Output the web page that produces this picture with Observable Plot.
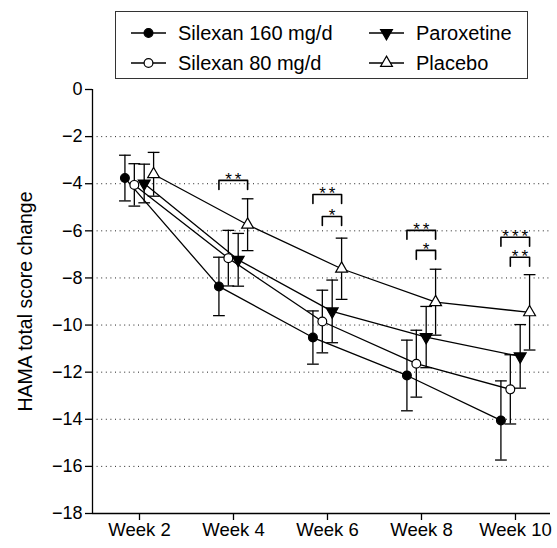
<!DOCTYPE html>
<html><head><meta charset="utf-8">
<script src="https://cdn.jsdelivr.net/npm/d3@7"></script>
<script src="https://cdn.jsdelivr.net/npm/@observablehq/plot@0.6"></script>
<style>
body{margin:0;background:#fff;font-family:"Liberation Sans",Arial,sans-serif;}
#wrap{position:relative;width:557px;height:548px;overflow:hidden;}
#wrap > svg.chart{position:absolute;left:0;top:0;}
#legend{position:absolute;left:115px;top:11px;width:413px;height:68px;border:1px solid #333;box-sizing:border-box;background:#fff;}
svg.chart g[aria-label="text"] text{letter-spacing:3px;}
</style></head>
<body><div id="wrap"><div id="legend"></div></div>
<script>
// ---- data ----
const weeks = [2, 4, 6, 8, 10];
const weekLabels = ["Week 2", "Week 4", "Week 6", "Week 8", "Week 10"];
const seriesNames = ["Silexan 160 mg/d", "Silexan 80 mg/d", "Paroxetine", "Placebo"];
const silexan160 = [-3.76, -8.36, -10.53, -12.14, -14.05];
const silexan160Err = [0.97, 1.24, 1.13, 1.5, 1.68];
const silexan80 = [-4.05, -7.16, -9.85, -11.64, -12.73];
const silexan80Err = [0.9, 1.18, 1.33, 1.42, 1.47];
const paroxetine = [-3.99, -7.23, -9.42, -10.51, -11.33];
const paroxetineErr = [0.82, 1.12, 1.33, 1.3, 1.35];
const placebo = [-3.6, -5.74, -7.61, -9.03, -9.46];
const placeboErr = [0.93, 1.1, 1.3, 1.4, 1.6];
const yTicks = [0, -2, -4, -6, -8, -10, -12, -14, -16, -18];
// significance brackets: week, from series, to series, level, label
const bracketWeek = [4, 6, 6, 8, 8, 10, 10];
const bracketFrom = ["Silexan 160 mg/d", "Silexan 160 mg/d", "Silexan 80 mg/d", "Silexan 160 mg/d", "Silexan 80 mg/d", "Silexan 160 mg/d", "Silexan 80 mg/d"];
const bracketTo = ["Placebo", "Placebo", "Placebo", "Placebo", "Placebo", "Placebo", "Placebo"];
const bracketLevel = [-3.86, -4.46, -5.39, -5.98, -6.83, -6.27, -7.12];
const bracketLabel = ["**", "**", "*", "**", "*", "***", "**"];

// ---- presentation ----
const means = [silexan160, silexan80, paroxetine, placebo];
const errs = [silexan160Err, silexan80Err, paroxetineErr, placeboErr];
const dodge = [-0.31, -0.11, 0.1, 0.3];
const fills = ["black", "white", "black", "white"];
const triDown = {draw(ctx, size) {
  const y = Math.sqrt(size / (3 * Math.sqrt(3)));
  ctx.moveTo(0, 2 * y); ctx.lineTo(-Math.sqrt(3) * y, -y); ctx.lineTo(Math.sqrt(3) * y, -y); ctx.closePath();
}};
const symbols = [d3.symbolCircle, d3.symbolCircle, triDown, d3.symbolTriangle];
const capHalf = 0.125, tickDrop = 0.38;
const FONT = "Liberation Sans, Arial, Helvetica, sans-serif";

const rows = [];
seriesNames.forEach((s, i) => weeks.forEach((w, j) => rows.push({
  series: s, week: w, x: w + dodge[i], mean: means[i][j], err: errs[i][j], fill: fills[i]
})));
const caps = rows.flatMap(d => [{x: d.x, y: d.mean - d.err}, {x: d.x, y: d.mean + d.err}]);
const posOf = (w, s) => w + dodge[seriesNames.indexOf(s)];
const brackets = bracketWeek.map((w, k) => ({
  id: k, x1: posOf(w, bracketFrom[k]), x2: posOf(w, bracketTo[k]), y: bracketLevel[k], label: bracketLabel[k]
}));
const bracketPts = brackets.flatMap(b => [
  {id: b.id, x: b.x1, y: b.y - tickDrop}, {id: b.id, x: b.x1, y: b.y},
  {id: b.id, x: b.x2, y: b.y}, {id: b.id, x: b.x2, y: b.y - tickDrop}
]);

const chart = Plot.plot({
  width: 557, height: 548,
  marginLeft: 92, marginRight: 7, marginTop: 89, marginBottom: 35,
  style: {fontFamily: FONT, fontSize: "18px", color: "black", background: "white"},
  x: {domain: [1, 10.745]},
  y: {domain: [-18, 0]},
  symbol: {domain: seriesNames, range: symbols},
  marks: [
    Plot.ruleY(yTicks.slice(1, -1), {stroke: "#222", strokeDasharray: "1,3.6", strokeWidth: 1}),
    Plot.ruleY([-18], {stroke: "black", strokeWidth: 1.3}),
    Plot.ruleX([1], {y1: -18, y2: 0, stroke: "black", strokeWidth: 1.3}),
    Plot.axisY(yTicks, {tickSize: 7, tickPadding: 3, strokeWidth: 1.3, fontSize: 18, label: null}),
    Plot.axisY({label: "HAMA total score change", ticks: [], tickSize: 0,
      labelAnchor: "center", labelArrow: "none", labelOffset: 74, fontSize: 19.5}),
    Plot.axisX(weeks, {tickSize: 7, tickPadding: 2, strokeWidth: 1.3, label: null, fontSize: 18.5,
      tickFormat: d => weekLabels[weeks.indexOf(d)]}),
    Plot.line(rows, {x: "x", y: "mean", z: "series", stroke: "black", strokeWidth: 1.3}),
    Plot.ruleX(rows, {x: "x", y1: d => d.mean - d.err, y2: d => d.mean + d.err, stroke: "black", strokeWidth: 1.3}),
    Plot.link(caps, {x1: d => d.x - capHalf, x2: d => d.x + capHalf, y1: "y", y2: "y", stroke: "black", strokeWidth: 1.3}),
    Plot.dot(rows, {x: "x", y: "mean", symbol: "series", fill: "fill", stroke: "black", strokeWidth: 1.2, r: 4.4}),
    Plot.line(bracketPts, {x: "x", y: "y", z: "id", stroke: "black", strokeWidth: 1.6}),
    Plot.text(brackets, {x: d => (d.x1 + d.x2) / 2, y: "y", text: "label", lineAnchor: "bottom", dy: 4.5,
      dx: 1.5, fontSize: 17, fill: "black"})
  ]
});
chart.classList.add("chart");
document.getElementById("wrap").prepend(chart);

// ---- legend ----
const lg = d3.select("#legend").append("svg").attr("width", 411).attr("height", 66)
  .style("font-family", FONT).style("font-size", "20px");
const legendCols = [[0, 1], [2, 3]];
const colX = [15, 253], rowY = [21, 51];
legendCols.forEach((col, c) => col.forEach((si, r) => {
  const g = lg.append("g").attr("transform", `translate(${colX[c]},${rowY[r]})`);
  g.append("line").attr("x1", 0).attr("x2", 35).attr("stroke", "black").attr("stroke-width", 1.3);
  g.append("path").attr("transform", "translate(17.5,0)")
    .attr("d", d3.symbol(symbols[si], Math.PI * 4.4 * 4.4)())
    .attr("fill", fills[si]).attr("stroke", "black").attr("stroke-width", 1.2);
  g.append("text").attr("x", 47).attr("dy", "0.35em").attr("fill", "black").text(seriesNames[si]);
}));
</script>
</body></html>
